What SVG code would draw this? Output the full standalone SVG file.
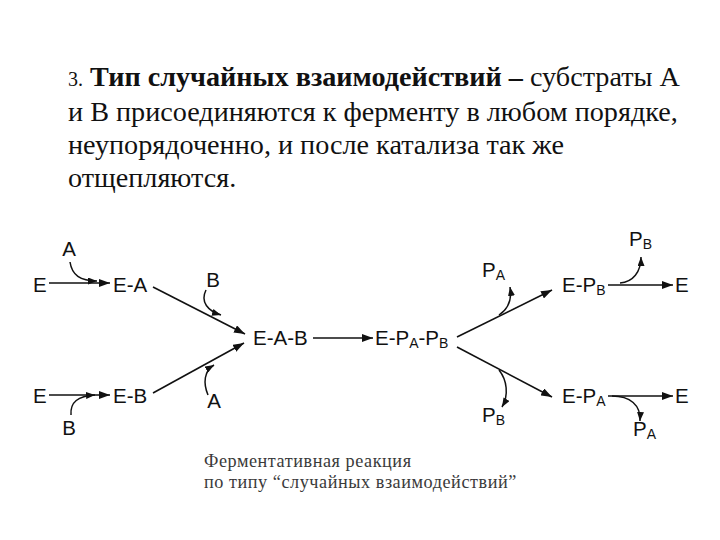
<svg xmlns="http://www.w3.org/2000/svg" width="720" height="540" viewBox="0 0 720 540">
<defs>
<marker id="ah" markerUnits="userSpaceOnUse" markerWidth="11" markerHeight="8" refX="11" refY="4" orient="auto"><path d="M0,0 L11,4 L0,8 z" fill="#111"/></marker>
<marker id="ahs" markerUnits="userSpaceOnUse" markerWidth="9" markerHeight="7" refX="9" refY="3.5" orient="auto"><path d="M0,0 L9,3.5 L0,7 z" fill="#111"/></marker>
<style>
.t{font-family:"Liberation Serif","Times New Roman",serif;font-size:28.2px;fill:#111}
.n{font-family:"Liberation Sans",Arial,sans-serif;font-size:20.5px;fill:#111}
.c{font-family:"Liberation Serif","Times New Roman",serif;font-size:18.2px;letter-spacing:0.55px;fill:#3a3a3a}
.l{stroke:#111;stroke-width:1.6;fill:none;marker-end:url(#ah)}
.cv{stroke:#111;stroke-width:1.5;fill:none;marker-end:url(#ahs)}
</style>
</defs>
<rect width="720" height="540" fill="#fff"/>
<g id="title">
<text class="t" x="68" y="86"><tspan font-size="20">3.</tspan> <tspan font-weight="bold">Тип случайных взаимодействий –</tspan> субстраты А</text>
<text class="t" x="68" y="121">и В присоединяются к ферменту в любом порядке,</text>
<text class="t" x="68" y="154">неупорядоченно, и после катализа так же</text>
<text class="t" x="68" y="187">отщепляются.</text>
</g>
<g id="connectors">
<path class="l" d="M49,283 L110,283"/>
<path class="l" d="M49,395 L110,395"/>
<path class="l" d="M153,287 L245,334"/>
<path class="l" d="M153,393 L244,343"/>
<path class="l" d="M313,338 L373,338"/>
<path class="l" d="M457,337 L552,290"/>
<path class="l" d="M457,347 L552,397"/>
<path class="l" d="M608,285 L673,285"/>
<path class="l" d="M608,396 L673,396"/>
<path class="cv" d="M70,262 C72,275 80,281 97,281"/>
<path class="cv" d="M71,415 C70,402 78,396 95,395"/>
<path class="cv" d="M206,290 C200,302 208,311 221,315"/>
<path class="cv" d="M208,395 C203,383 204,371 214,365"/>
<path class="cv" d="M499,315 C508,309 512,299 510,287"/>
<path class="cv" d="M499,370 C507,380 509,395 502,407"/>
<path class="cv" d="M620,283 C633,282 641,272 641,257"/>
<path class="cv" d="M612,396 C630,396 641,405 640,421"/>
</g>
<g id="n-E1"><text class="n" x="33" y="292">E</text></g>
<g id="n-A1"><text class="n" x="69" y="256" text-anchor="middle">A</text></g>
<g id="n-EA"><text class="n" x="113" y="292">E-A</text></g>
<g id="n-E2"><text class="n" x="33" y="403">E</text></g>
<g id="n-B1"><text class="n" x="69" y="435" text-anchor="middle">B</text></g>
<g id="n-EB"><text class="n" x="113" y="403">E-B</text></g>
<g id="n-B2"><text class="n" x="213" y="287" text-anchor="middle">B</text></g>
<g id="n-A2"><text class="n" x="214" y="408" text-anchor="middle">A</text></g>
<g id="n-EAB"><text class="n" x="253" y="345">E-A-B</text></g>
<g id="n-EPAPB"><text class="n" x="375" y="345">E-P<tspan font-size="14" dy="3">A</tspan><tspan dy="-3">-P</tspan><tspan font-size="14" dy="3">B</tspan></text></g>
<g id="n-PA1"><text class="n" x="482" y="277">P<tspan font-size="14" dy="3">A</tspan></text></g>
<g id="n-PB1"><text class="n" x="482" y="422">P<tspan font-size="14" dy="3">B</tspan></text></g>
<g id="n-EPB"><text class="n" x="562" y="292">E-P<tspan font-size="14" dy="3">B</tspan></text></g>
<g id="n-EPA"><text class="n" x="562" y="403">E-P<tspan font-size="14" dy="3">A</tspan></text></g>
<g id="n-E3"><text class="n" x="675" y="292">E</text></g>
<g id="n-E4"><text class="n" x="675" y="403">E</text></g>
<g id="n-PB2"><text class="n" x="629" y="246">P<tspan font-size="14" dy="3">B</tspan></text></g>
<g id="n-PA2"><text class="n" x="633" y="436">P<tspan font-size="14" dy="3">A</tspan></text></g>
<g id="caption">
<text class="c" x="204" y="467">Ферментативная реакция</text>
<text class="c" x="204" y="488">по типу “случайных взаимодействий”</text>
</g>
</svg>
